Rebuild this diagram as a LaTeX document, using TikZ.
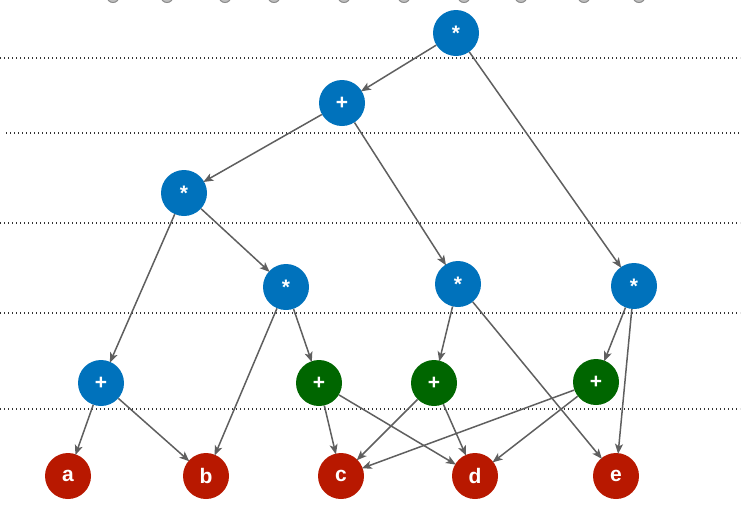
\documentclass[tikz,border=0pt]{standalone}
\usepackage{fontspec}
\setmainfont{Liberation Sans}
\usetikzlibrary{arrows.meta}
\definecolor{nblue}{RGB}{0,114,188}
\definecolor{ngreen}{RGB}{0,102,0}
\definecolor{nred}{RGB}{184,24,0}
\definecolor{edgegray}{RGB}{95,95,95}
\tikzset{
  opnode/.style={circle, fill=#1, minimum size=46pt, inner sep=0pt, text=white, font=\fontsize{21}{21}\selectfont\bfseries},
  bnode/.style={opnode=nblue},
  gnode/.style={opnode=ngreen},
  rnode/.style={opnode=nred},
  edge/.style={draw=edgegray, line width=1.5pt, -{Stealth[length=10pt,width=8pt,inset=2.5pt]}, shorten >=-1pt},
  level/.style={draw=black!80, line width=1.4pt, dash pattern=on 1.4pt off 2.6pt},
  topdot/.style={draw=gray!90, fill=gray!50, line width=1pt}
}
\begin{document}
\begin{tikzpicture}[x=1pt,y=-1pt]
\useasboundingbox (0,0) rectangle (749,531);
% partial circles at the top edge
\foreach \x in {113,167,225,274,344,404,464,521,584,639}
  \draw[topdot] (\x,-3.5) circle (6);
% dotted level lines
\draw[level] (0,58) -- (740,58);
\draw[level] (6,133) -- (740,133);
\draw[level] (0,223) -- (740,223);
\draw[level] (0,313) -- (740,313);
\draw[level] (0,409) -- (740,409);
% nodes
\node[bnode] (r)  at (456,33) {*};
\node[bnode] (p1) at (342,103) {+};
\node[bnode] (m1) at (184,193) {*};
\node[bnode] (m2) at (286,287) {*};
\node[bnode] (m3) at (458,284) {*};
\node[bnode] (m4) at (634,286) {*};
\node[bnode] (p2) at (101,383) {+};
\node[gnode] (g1) at (319,383) {+};
\node[gnode] (g2) at (434,383) {+};
\node[gnode] (g3) at (596,382) {+};
\node[rnode] (a) at (68,476) {a};
\node[rnode] (b) at (206,476) {b};
\node[rnode] (c) at (341,476) {c};
\node[rnode] (d) at (475,476) {d};
\node[rnode] (e) at (616,476) {e};
% edges
\draw[edge] (r) -- (p1);
\draw[edge] (r) -- (m4);
\draw[edge] (p1) -- (m1);
\draw[edge] (p1) -- (m3);
\draw[edge] (m1) -- (p2);
\draw[edge] (m1) -- (m2);
\draw[edge] (m2) -- (b);
\draw[edge] (m2) -- (g1);
\draw[edge] (m3) -- (g2);
\draw[edge] (m3) -- (e);
\draw[edge] (m4) -- (g3);
\draw[edge] (m4) -- (e);
\draw[edge] (p2) -- (a);
\draw[edge] (p2) -- (b);
\draw[edge] (g1) -- (c);
\draw[edge] (g1) -- (d);
\draw[edge] (g2) -- (c);
\draw[edge] (g2) -- (d);
\draw[edge] (g3) -- (c);
\draw[edge] (g3) -- (d);
\end{tikzpicture}
\end{document}
